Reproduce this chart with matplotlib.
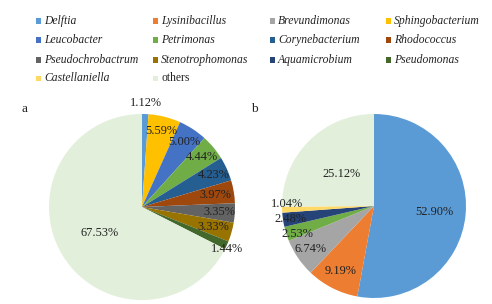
import numpy as np
import matplotlib
matplotlib.use("Agg")
import matplotlib.pyplot as plt
from matplotlib.patches import Rectangle

plt.rcParams['font.family'] = ['Liberation Serif', 'DejaVu Serif']

# Legend genera (grid order, row by row)
legend_names = ["Delftia", "Lysinibacillus", "Brevundimonas", "Sphingobacterium",
                "Leucobacter", "Petrimonas", "Corynebacterium", "Rhodococcus",
                "Pseudochrobactrum", "Stenotrophomonas", "Aquamicrobium", "Pseudomonas",
                "Castellaniella", "others"]
colors = {
    "Delftia": "#5B9BD5", "Lysinibacillus": "#ED7D31", "Brevundimonas": "#A5A5A5",
    "Sphingobacterium": "#FFC000", "Leucobacter": "#4472C4", "Petrimonas": "#70AD47",
    "Corynebacterium": "#255E91", "Rhodococcus": "#9E480E", "Pseudochrobactrum": "#636363",
    "Stenotrophomonas": "#997300", "Aquamicrobium": "#264478", "Pseudomonas": "#43682B",
    "Castellaniella": "#FFD966", "others": "#E2EFDA",
}

# Pie a
a_names = ["Delftia", "Sphingobacterium", "Leucobacter", "Petrimonas", "Corynebacterium",
           "Rhodococcus", "Pseudochrobactrum", "Stenotrophomonas", "Pseudomonas", "others"]
a_values = [1.12, 5.59, 5.00, 4.44, 4.23, 3.97, 3.35, 3.33, 1.44, 67.53]
a_label_dist = [1.12, 0.84, 0.84, 0.84, 0.84, 0.80, 0.83, 0.80, 1.0, 0.53]
a_label_dy = [0, 0, 0, 0, 0, 0, 0, 0, -0.04, 0]

# Pie b
b_names = ["Delftia", "Lysinibacillus", "Brevundimonas", "Petrimonas", "Aquamicrobium",
           "Castellaniella", "others"]
b_values = [52.90, 9.19, 6.74, 2.53, 2.48, 1.04, 25.12]
b_label_dist = [0.66, 0.79, 0.83, 0.87, 0.92, 0.95, 0.50]
b_label_dy = [0, 0, 0, -0.04, 0.0, 0.06, 0]

W, H = 492, 304
fig = plt.figure(figsize=(W / 100, H / 100), dpi=100)
TXT = "#222222"
FS = 8.9


def draw_pie(center, r, names, values, dists, dys, letter, letter_pos):
    cx, cy = center
    ax = fig.add_axes([(cx - r) / W, (H - cy - r) / H, 2 * r / W, 2 * r / H])
    ax.pie(values, colors=[colors[n] for n in names], startangle=90,
           counterclock=False, radius=1.0, wedgeprops=dict(linewidth=0))
    total = sum(values)
    cum = 0.0
    for v, d, dy in zip(values, dists, dys):
        mid = 90 - (cum + v / 2) / total * 360
        cum += v
        x = d * np.cos(np.radians(mid))
        y = d * np.sin(np.radians(mid)) + dy
        ax.text(x, y, f"{v:.2f}%", ha="center", va="center", fontsize=FS, color=TXT,
                clip_on=False)
    ax.set_xlim(-1, 1)
    ax.set_ylim(-1, 1)
    ax.set_aspect("equal")
    ax.axis("off")
    fig.text(letter_pos[0] / W, 1 - letter_pos[1] / H, letter, fontsize=9.5,
             color=TXT, ha="left", va="center")


draw_pie((142, 207), 93, a_names, a_values, a_label_dist, a_label_dy, "a", (22, 109))
draw_pie((374, 206), 92, b_names, b_values, b_label_dist, b_label_dy, "b", (251, 109))

# Legend grid
col_x = [36, 153, 270, 386]
row_y = [21, 40, 60, 78]
sq = 5
for i, name in enumerate(legend_names):
    r, c = divmod(i, 4)
    x, y = col_x[c], row_y[r]
    fig.patches.append(Rectangle((x / W, (H - y - sq / 2) / H), sq / W, sq / H,
                                 transform=fig.transFigure, facecolor=colors[name],
                                 edgecolor="none"))
    fig.text((x + sq + 3) / W, 1 - y / H, name, fontsize=8.4, color=TXT,
             style="normal" if name == "others" else "italic",
             ha="left", va="center")

fig.savefig("out.png", dpi=100)
